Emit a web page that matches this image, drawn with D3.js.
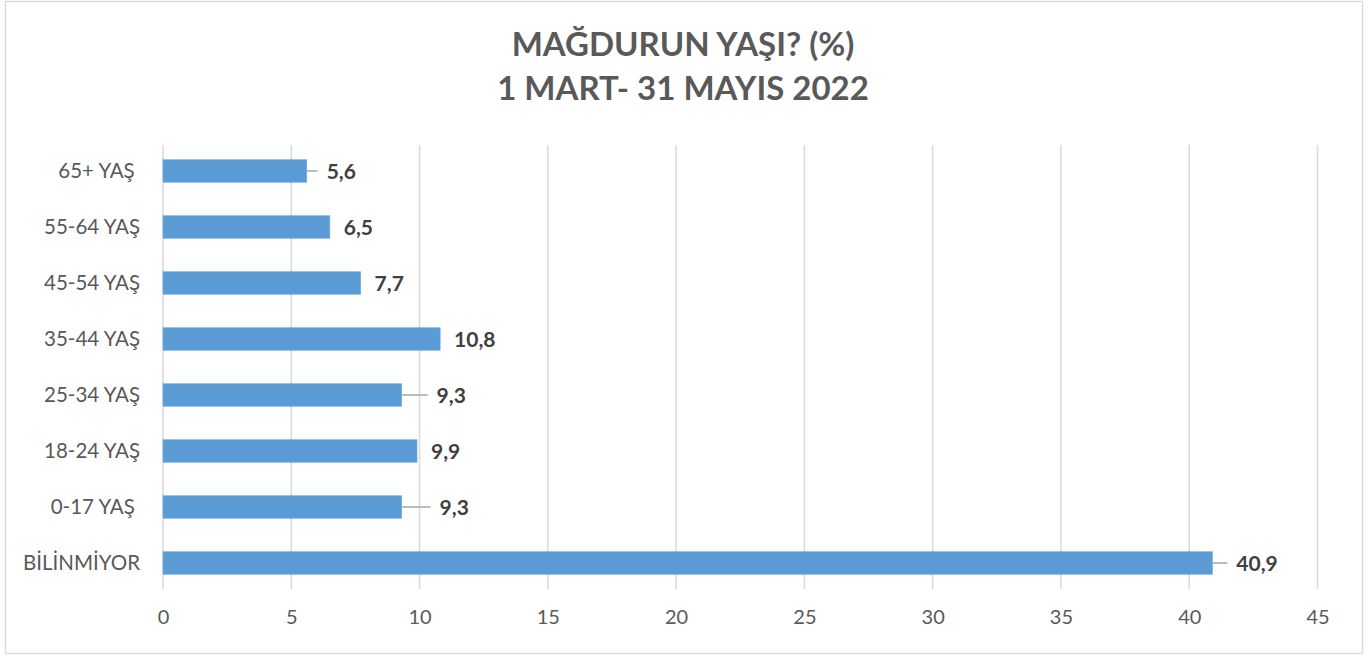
<!DOCTYPE html>
<html>
<head>
<meta charset="utf-8">
<script src="https://cdn.jsdelivr.net/npm/d3@7"></script>
<style>
  body { margin: 0; background: #fff; }
  svg { display: block; }
  text { white-space: pre; }
</style>
</head>
<body>
<svg id="chart" width="1371" height="657"></svg>
<script>
// chart data
var titleLines = ["MAĞDURUN YAŞI? (%)", "1 MART- 31 MAYIS 2022"];
var categories = ["65+ YAŞ ", "55-64 YAŞ", "45-54 YAŞ", "35-44 YAŞ", "25-34 YAŞ", "18-24 YAŞ", "0-17 YAŞ ", "BİLİNMİYOR"];
var values = [5.6, 6.5, 7.7, 10.8, 9.3, 9.9, 9.3, 40.9];
var valueLabels = ["5,6", "6,5", "7,7", "10,8", "9,3", "9,9", "9,3", "40,9"];
var xTicks = [0, 5, 10, 15, 20, 25, 30, 35, 40, 45];

// leader line lengths for the moved labels (0 = no leader)
var leaders = [11, 0, 0, 0, 26, 0, 29, 15];

var W = 1371, H = 657,
  margin = { left: 163, right: 53, top: 143, bottom: 66 },
  svg = d3.select("#chart"),
  font = "Lato, 'Open Sans', sans-serif";

// outer frame
svg.append("rect").attr("x", 5.5).attr("y", 1.5).attr("width", 1357).attr("height", 652)
  .attr("fill", "#fff").attr("stroke", "#d9d9d9").attr("stroke-width", 1.3);

// title
svg.selectAll("text.title").data(titleLines).enter().append("text")
  .attr("class", "title")
  .attr("x", 683).attr("y", function (d, i) { return 56 + i * 44; })
  .attr("text-anchor", "middle")
  .style("font", "bold 33px " + font)
  .style("fill", "#595959")
  .text(function (d) { return d; });

var x = d3.scaleLinear().domain([0, 45]).range([margin.left, W - margin.right - 0.5]),
  y = d3.scaleBand().domain(categories).range([margin.top, H - margin.bottom]).paddingInner(0.6).paddingOuter(0.3);

// gridlines
svg.append("g").selectAll("line").data(xTicks).enter().append("line")
  .attr("x1", function (d) { return x(d); }).attr("x2", function (d) { return x(d); })
  .attr("y1", margin.top + 2).attr("y2", H - margin.bottom - 2)
  .attr("stroke", "#d9d9d9").attr("stroke-width", 1.5);

// x axis labels
var xAxis = d3.axisBottom(x).tickValues(xTicks).tickSize(0).tickPadding(0);
var gx = svg.append("g").attr("transform", "translate(0," + (H - margin.bottom + 19) + ")").call(xAxis);
gx.select(".domain").remove();
gx.selectAll("text").style("font", "20px " + font).style("fill", "#595959");

// category labels
var yAxis = d3.axisLeft(y).tickSize(0).tickPadding(23);
var gy = svg.append("g").attr("transform", "translate(" + margin.left + ",0)").call(yAxis);
gy.select(".domain").remove();
gy.selectAll("text").style("font", "20.5px " + font).style("fill", "#595959");

// bars
var data = categories.map(function (c, i) { return { cat: c, v: values[i], lab: valueLabels[i], lead: leaders[i] }; });
svg.append("g").selectAll("rect").data(data).enter().append("rect")
  .attr("x", x(0)).attr("y", function (d) { return y(d.cat); })
  .attr("width", function (d) { return x(d.v) - x(0); })
  .attr("height", y.bandwidth())
  .attr("fill", "#5b9bd5").attr("stroke", "#6fa8dc").attr("stroke-width", 0.8);

// leader lines
svg.append("g").selectAll("line").data(data.filter(function (d) { return d.lead > 0; })).enter().append("line")
  .attr("x1", function (d) { return x(d.v); }).attr("x2", function (d) { return x(d.v) + d.lead; })
  .attr("y1", function (d) { return y(d.cat) + y.bandwidth() / 2; })
  .attr("y2", function (d) { return y(d.cat) + y.bandwidth() / 2; })
  .attr("stroke", "#a6a6a6").attr("stroke-width", 1.5);

// value labels
svg.append("g").selectAll("text").data(data).enter().append("text")
  .attr("x", function (d) { return x(d.v) + (d.lead > 0 ? d.lead + 9 : 14); })
  .attr("y", function (d) { return y(d.cat) + y.bandwidth() / 2 + 1; })
  .attr("dy", "0.35em")
  .style("font", "bold 21px " + font)
  .style("fill", "#404040")
  .text(function (d) { return d.lab; });
</script>
</body>
</html>
